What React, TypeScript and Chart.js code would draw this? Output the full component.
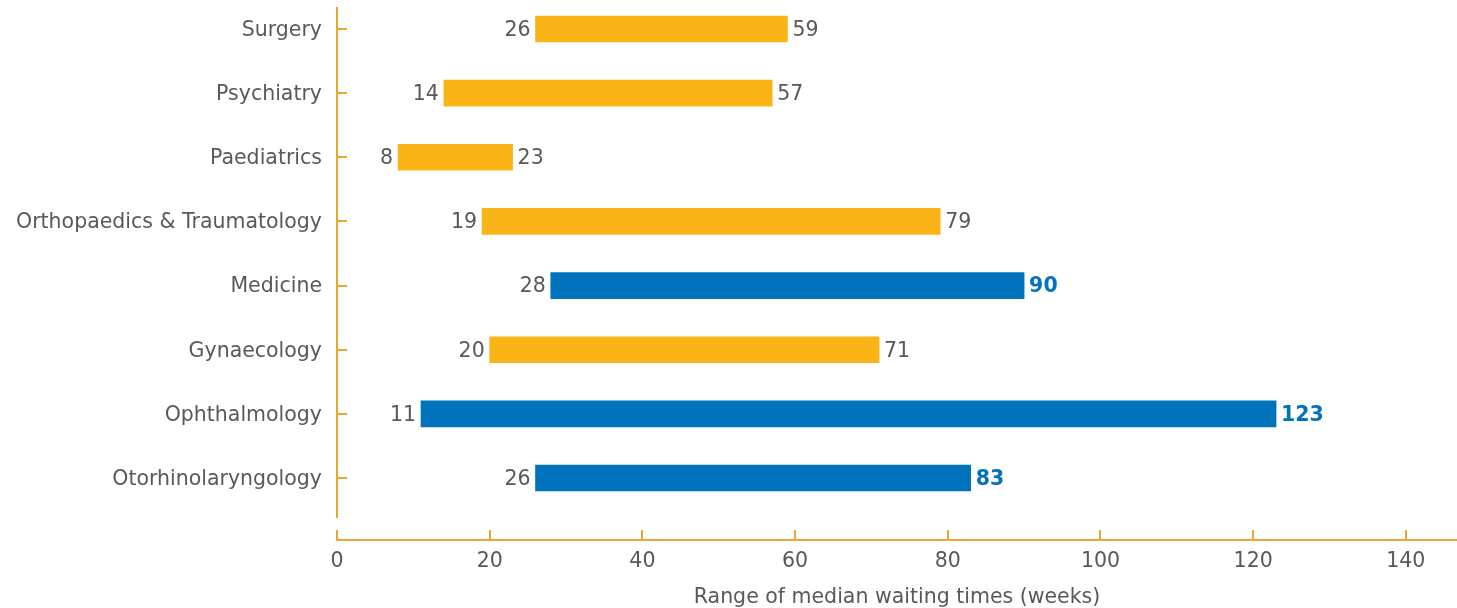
import React, { useEffect, useRef } from 'react';
import { Chart, registerables } from 'chart.js';

Chart.register(...registerables);

// Specialties, top to bottom
const departments = [
  'Surgery',
  'Psychiatry',
  'Paediatrics',
  'Orthopaedics & Traumatology',
  'Medicine',
  'Gynaecology',
  'Ophthalmology',
  'Otorhinolaryngology',
];
// Shortest and longest median waiting time per specialty (weeks)
const shortestWait = [26, 14, 8, 19, 28, 20, 11, 26];
const longestWait = [59, 57, 23, 79, 90, 71, 123, 83];
// Specialties whose range is shown in blue
const highlighted = [false, false, false, false, true, false, true, true];
// Week ticks on the horizontal axis
const weekTicks = [0, 20, 40, 60, 80, 100, 120, 140];

const YELLOW = '#FBB417';
const BLUE = '#0073BC';
const AXIS = '#EDA62F';
const TEXT = '#595959';
const FONT = "'DejaVu Sans', sans-serif";
const FONT_SIZE = 20.5;

// Writes the start and end week next to each range bar
const rangeLabels = {
  id: 'rangeLabels',
  afterDatasetsDraw(chart: any) {
    const ctx = chart.ctx;
    const meta = chart.getDatasetMeta(0);
    ctx.save();
    ctx.textBaseline = 'middle';
    meta.data.forEach((bar: any, i: number) => {
      const { x, y, base } = bar.getProps(['x', 'y', 'base'], true);
      const ty = y + 1.5;
      ctx.font = `${FONT_SIZE}px ${FONT}`;
      ctx.fillStyle = TEXT;
      ctx.textAlign = 'right';
      ctx.fillText(String(shortestWait[i]), base - 5, ty);
      ctx.textAlign = 'left';
      if (highlighted[i]) {
        ctx.font = `bold ${FONT_SIZE}px ${FONT}`;
        ctx.fillStyle = BLUE;
      }
      ctx.fillText(String(longestWait[i]), x + 5, ty);
    });
    ctx.restore();
  },
};

export default function App() {
  const canvasRef = useRef<HTMLCanvasElement | null>(null);

  useEffect(() => {
    if (!canvasRef.current) return;
    const chart = new Chart(canvasRef.current, {
      type: 'bar',
      data: {
        datasets: [
          {
            data: departments.map((_, i) => ({ y: i, x: [shortestWait[i], longestWait[i]] })) as any,
            backgroundColor: highlighted.map((h) => (h ? BLUE : YELLOW)),
            borderWidth: 0,
            barThickness: 26,
            xAxisID: 'x',
            yAxisID: 'y',
          },
        ],
      },
      options: {
        indexAxis: 'y',
        animation: false,
        responsive: true,
        maintainAspectRatio: false,
        layout: { padding: { top: 8, right: 0, bottom: 0, left: 0 } },
        plugins: {
          legend: { display: false },
          tooltip: { enabled: false },
        },
        scales: {
          y: {
            type: 'linear',
            position: 'left',
            reverse: true,
            offset: false,
            min: -0.327,
            max: 7.608,
            afterBuildTicks: (s: any) => {
              s.ticks = departments.map((_, i) => ({ value: i }));
            },
            afterFit: (s: any) => {
              s.width = 337;
              s.paddingTop = 0;
              s.paddingBottom = 0;
            },
            ticks: {
              callback: (v: any) => departments[v as number],
              color: TEXT,
              font: { family: FONT, size: FONT_SIZE },
              padding: 25,
              labelOffset: 1.5,
            },
            grid: { offset: false, drawOnChartArea: false, tickLength: -10, color: AXIS, lineWidth: 2 },
            border: { color: AXIS, width: 2 },
          },
          gap: {
            type: 'linear',
            position: 'bottom',
            weight: 0,
            ticks: { display: false },
            grid: { display: false },
            border: { display: false },
            afterFit: (s: any) => {
              s.height = 23;
              s.paddingLeft = 0;
              s.paddingRight = 0;
            },
          },
          x: {
            type: 'linear',
            position: 'bottom',
            weight: 1,
            min: 0,
            max: 146.7,
            afterBuildTicks: (s: any) => {
              s.ticks = weekTicks.map((v) => ({ value: v }));
            },
            afterFit: (s: any) => {
              s.height = 68;
              s.paddingLeft = 0;
              s.paddingRight = 0;
            },
            ticks: {
              color: TEXT,
              font: { family: FONT, size: FONT_SIZE },
              padding: 19,
              maxRotation: 0,
            },
            grid: { drawOnChartArea: false, tickLength: -10, color: AXIS, lineWidth: 2 },
            border: { color: AXIS, width: 2 },
            title: {
              display: true,
              text: 'Range of median waiting times (weeks)',
              color: TEXT,
              font: { family: FONT, size: FONT_SIZE },
              padding: { top: 0, bottom: -2 },
            },
          },
        } as any,
      },
      plugins: [rangeLabels],
    });
    return () => chart.destroy();
  }, []);

  return (
    <div style={{ position: 'absolute', left: 0, top: 0, width: 1457, height: 608 }}>
      <canvas ref={canvasRef} />
    </div>
  );
}
